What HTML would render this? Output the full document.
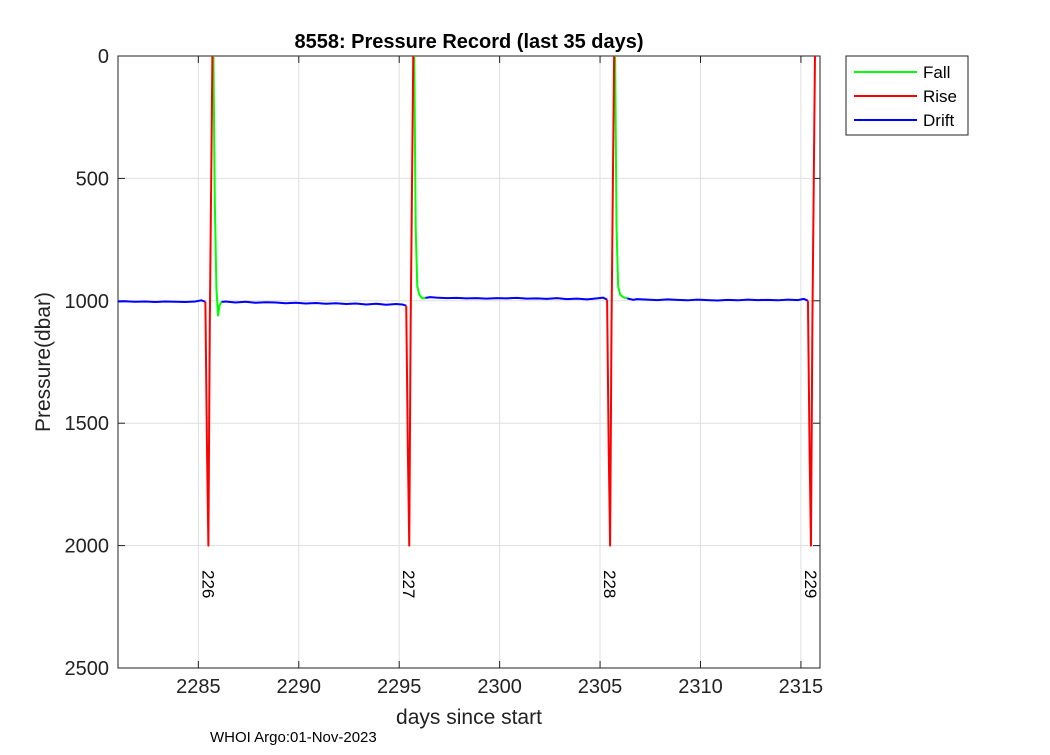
<!DOCTYPE html>
<html><head><meta charset="utf-8"><style>
body{margin:0;background:#fff;}
svg text{font-family:"Liberation Sans",Arial,sans-serif;}
</style></head><body>
<svg id="chart" width="1050" height="750" xmlns="http://www.w3.org/2000/svg"></svg>
<script>
// ---- data ----
const xTicks=[2285,2290,2295,2300,2305,2310,2315];
const yTicks=[0,500,1000,1500,2000,2500];
const cycleLabels=["226","227","228","229"];
const cycleLabelDays=[2285.5,2295.5,2305.5,2315.5];
// drift segments
const drift1Days=[2281.0,2281.4,2281.85,2282.35,2282.85,2283.35,2283.85,2284.35,2284.85,2285.15,2285.35];
const drift1Pres=[1003,1002,1004,1003,1005,1003,1004,1005,1003,998,1004];
const drift2Days=[2286.15,2286.35,2286.85,2287.35,2287.85,2288.35,2288.85,2289.35,2289.85,2290.35,2290.85,2291.35,2291.85,2292.35,2292.85,2293.35,2293.85,2294.35,2294.85,2295.15,2295.35];
const drift2Pres=[1005,1003,1007,1004,1008,1006,1007,1010,1008,1011,1009,1012,1010,1013,1011,1015,1012,1016,1013,1015,1020];
const drift3Days=[2296.3,2296.55,2296.85,2297.35,2297.85,2298.35,2298.85,2299.35,2299.85,2300.35,2300.85,2301.35,2301.85,2302.35,2302.85,2303.35,2303.85,2304.35,2304.85,2305.15,2305.35];
const drift3Pres=[988,985,987,989,988,990,989,991,989,990,988,991,990,992,989,993,991,994,990,987,995];
const drift4Days=[2306.35,2306.65,2306.85,2307.35,2307.85,2308.35,2308.85,2309.35,2309.85,2310.35,2310.85,2311.35,2311.85,2312.35,2312.85,2313.35,2313.85,2314.35,2314.85,2315.15,2315.35];
const drift4Pres=[990,996,993,995,997,994,996,998,995,997,999,996,998,995,997,996,998,995,997,992,1000];
// rise (red) and fall (green) per cycle
const riseDays=[[2285.35,2285.43,2285.5,2285.57,2285.7],[2295.35,2295.43,2295.5,2295.57,2295.7],[2305.35,2305.43,2305.5,2305.57,2305.7],[2315.35,2315.43,2315.5,2315.57,2315.7]];
const risePres=[[1004,1600,2000,1100,0],[1020,1600,2000,1100,0],[995,1600,2000,1100,0],[1000,1600,2000,1100,0]];
const fallDays=[[2285.75,2285.82,2285.9,2285.98,2286.05,2286.15],[2295.75,2295.82,2295.9,2296.0,2296.15,2296.3],[2305.75,2305.82,2305.9,2306.0,2306.15,2306.35]];
const fallPres=[[0,600,950,1060,1020,1005],[0,700,940,975,990,988],[0,700,940,975,985,990]];

const X0=118,X1=820,Y0=56,Y1=668,XMIN=2281.0,XMAX=2315.95;
const xs=d=>X0+(d-XMIN)/(XMAX-XMIN)*(X1-X0);
const ys=p=>Y0+p/2500*(Y1-Y0);
const svg=document.getElementById('chart');
const NS="http://www.w3.org/2000/svg";
function mk(tag,attrs,parent){const e=document.createElementNS(NS,tag);for(const k in attrs)e.setAttribute(k,attrs[k]);(parent||svg).appendChild(e);return e;}
function txt(s,attrs){const e=mk('text',attrs);e.textContent=s;return e;}

const bg=mk('rect',{x:X0,y:Y0,width:X1-X0,height:Y1-Y0,fill:'#fff'});


xTicks.forEach(t=>{const g=mk('line',{x1:xs(t),x2:xs(t),y1:Y0,y2:Y1,stroke:'#dfdfdf','stroke-width':1});


mk('line',{x1:xs(t),x2:xs(t),y1:Y1,y2:Y1-7,stroke:'#222'});
mk('line',{x1:xs(t),x2:xs(t),y1:Y0,y2:Y0+7,stroke:'#222'});
const l=txt(String(t),{x:xs(t),y:Y1+25,'font-size':20,'text-anchor':'middle',fill:'#222'});

});
yTicks.forEach(t=>{const g=mk('line',{x1:X0,x2:X1,y1:ys(t),y2:ys(t),stroke:'#dfdfdf','stroke-width':1});


mk('line',{x1:X0,x2:X0+7,y1:ys(t),y2:ys(t),stroke:'#222'});
mk('line',{x1:X1,x2:X1-7,y1:ys(t),y2:ys(t),stroke:'#222'});
const l=txt(String(t),{x:X0-9,y:ys(t)+7,'font-size':20,'text-anchor':'end',fill:'#222'});

});
const fr=mk('rect',{x:X0,y:Y0,width:X1-X0,height:Y1-Y0,fill:'none',stroke:'#222','stroke-width':1});



function line(days,pres,color,name){const p=mk('polyline',{points:days.map((d,i)=>xs(d)+','+ys(pres[i])).join(' '),fill:'none',stroke:color,'stroke-width':2,'stroke-linejoin':'round'});

}
line(drift1Days,drift1Pres,'#0000ff','drift-line');
line(drift2Days,drift2Pres,'#0000ff','drift-line');
line(drift3Days,drift3Pres,'#0000ff','drift-line');
line(drift4Days,drift4Pres,'#0000ff','drift-line');
fallDays.forEach((d,i)=>line(d,fallPres[i],'#00ff00','fall-line'));
riseDays.forEach((d,i)=>line(d,risePres[i],'#ff0000','rise-line'));
cycleLabels.forEach((s,i)=>{const x=xs(cycleLabelDays[i])-6,y=570;
const l=txt(s,{x:x,y:y,'font-size':17,fill:'#000',transform:`rotate(90 ${x} ${y})`});

});

const t=txt('8558: Pressure Record (last 35 days)',{x:469,y:48,'font-size':20,'font-weight':'bold','text-anchor':'middle',fill:'#000'});


const xl=txt('days since start',{x:469,y:724,'font-size':21,'text-anchor':'middle',fill:'#222'});


const yl=txt('Pressure(dbar)',{x:50,y:362,'font-size':21,'text-anchor':'middle',fill:'#222',transform:'rotate(-90 50 362)'});


const ft=txt('WHOI Argo:01-Nov-2023',{x:210,y:742,'font-size':15,fill:'#000'});



const lg=mk('g',{});


mk('rect',{x:846,y:56,width:122,height:79,fill:'#fff',stroke:'#222'},lg);
[['Fall','#00ff00'],['Rise','#ff0000'],['Drift','#0000ff']].forEach(([n,c],i)=>{const y=72+i*24;
const e=mk('g',{},lg);


mk('line',{x1:854,x2:917,y1:y,y2:y,stroke:c,'stroke-width':2},e);
const tt=mk('text',{x:923,y:y+6,'font-size':17,fill:'#000'},e);tt.textContent=n;});
</script>
</body></html>
